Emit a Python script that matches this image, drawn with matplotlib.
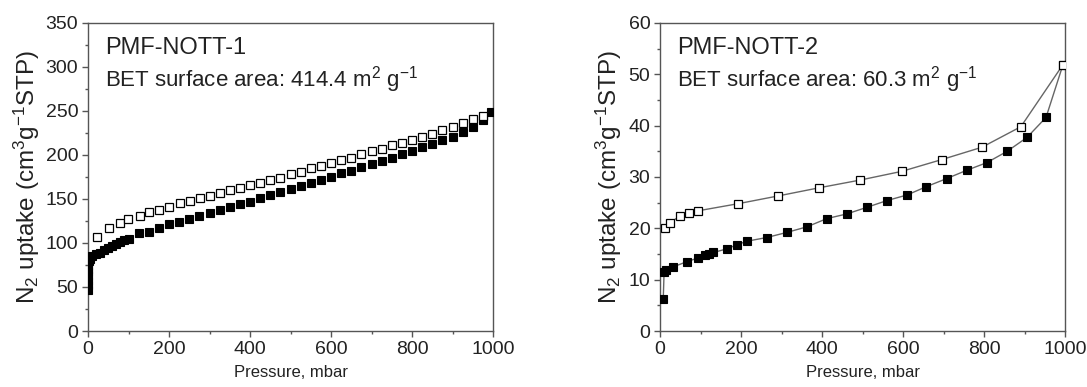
import matplotlib
matplotlib.use('Agg')
import matplotlib.pyplot as plt
from matplotlib.ticker import MultipleLocator

plt.rcParams['font.family'] = ['Liberation Sans', 'DejaVu Sans']
plt.rcParams['mathtext.fontset'] = 'custom'
plt.rcParams['mathtext.rm'] = 'Liberation Sans'
plt.rcParams['mathtext.it'] = 'Liberation Sans:italic'

# PMF-NOTT-1 adsorption (filled) / desorption (open)
p1_ads = [0, 0, 0, 0, 0, 0, 0, 2, 5, 10, 20, 30, 40, 50, 60, 70, 80, 90, 100,
          125, 150, 175, 200, 225, 250, 275, 300, 325, 350, 375, 400, 425, 450,
          475, 500, 525, 550, 575, 600, 625, 650, 675, 700, 725, 750, 775, 800,
          825, 850, 875, 900, 925, 950, 975, 995]
v1_ads = [47, 52, 57, 62, 67, 71, 75, 79, 82, 85, 87, 89, 92, 94, 97, 99, 101, 103, 104.5,
          111, 113, 117, 122, 124, 127, 131, 134, 138, 141, 144, 147, 151, 154,
          158, 161, 165, 168, 172, 175, 179, 182, 186, 190, 193, 197, 201, 204,
          209, 212, 217, 221, 226, 232, 240, 249]
p1_des = [22, 52, 79, 99, 128, 151, 175, 200, 227, 252, 277, 301, 325, 350, 375,
          400, 425, 450, 475, 500, 525, 550, 575, 600, 625, 650, 675, 700, 725,
          750, 775, 800, 825, 850, 875, 900, 925, 950, 975]
v1_des = [107, 117, 123, 127, 131, 135, 137.5, 141, 145, 148, 151, 153, 157, 160, 163,
          166, 168, 172, 174, 178, 181, 185, 188, 191, 194, 197, 201, 204, 207,
          211, 214, 217, 220, 224, 228, 232, 236, 241, 244]

# PMF-NOTT-2
p2_ads = [8, 10, 15, 33, 66, 93, 112, 122, 132, 165, 190, 215, 263, 313, 363, 412,
          461, 511, 560, 610, 657, 708, 757, 807, 857, 906, 953, 995]
v2_ads = [6.3, 11.4, 11.8, 12.5, 13.5, 14.2, 14.8, 15.0, 15.3, 16.0, 16.8, 17.5, 18.2,
          19.2, 20.3, 21.9, 22.8, 24.1, 25.4, 26.5, 28.1, 29.7, 31.3, 32.8, 35.0,
          37.7, 41.6, 51.9]
p2_des = [12, 25, 49, 72, 93, 193, 291, 393, 494, 597, 696, 795, 891, 995]
v2_des = [20.1, 21.1, 22.4, 23.0, 23.4, 24.8, 26.3, 27.9, 29.4, 31.1, 33.4, 35.8, 39.8, 51.9]

panels = [
    (p1_ads, v1_ads, p1_des, v1_des, 350, 50, 25, 'PMF-NOTT-1', '414.4', False),
    (p2_ads, v2_ads, p2_des, v2_des, 60, 10, 5, 'PMF-NOTT-2', '60.3', True),
]

txt = '#222222'
spine = '#555555'

fig = plt.figure(figsize=(10.87, 3.87), dpi=100)
lefts = [0.081, 0.6072]
for (pa, va, pd, vd, ymax, ymaj, ymin, name, bet, lines), left in zip(panels, lefts):
    ax = fig.add_axes([left, 0.1447, 0.3726, 0.7959])
    if lines:
        ax.plot(pa, va, color='#666666', lw=1.0, zorder=1)
        ax.plot(pd, vd, color='#666666', lw=1.0, zorder=1)
    ax.plot(pa, va, ls='none', marker='s', ms=6.4, mfc='black', mec='black', mew=0.8, zorder=3)
    ax.plot(pd, vd, ls='none', marker='s', ms=6.4, mfc='white', mec='black', mew=0.9, zorder=4)
    ax.set_xlim(0, 1000)
    ax.set_ylim(0, ymax)
    ax.xaxis.set_major_locator(MultipleLocator(200))
    ax.xaxis.set_minor_locator(MultipleLocator(100))
    ax.yaxis.set_major_locator(MultipleLocator(ymaj))
    ax.yaxis.set_minor_locator(MultipleLocator(ymin))
    ax.tick_params(which='major', direction='out', length=4, width=1, colors=spine,
                   labelcolor=txt, labelsize=14, pad=3)
    ax.tick_params(which='minor', direction='out', length=2.5, width=1, colors=spine)
    for s in ax.spines.values():
        s.set_color(spine)
        s.set_linewidth(1.0)
    ax.set_xlabel('Pressure, mbar', fontsize=12, color=txt, labelpad=5)
    ax.set_ylabel(r'N$_2$ uptake (cm$^3$g$^{-1}$STP)', fontsize=17.5, color=txt, labelpad=3)
    ax.text(0.042, 0.919, name, transform=ax.transAxes, fontsize=17, color=txt,
            ha='left', va='center')
    ax.text(0.042, 0.815, 'BET surface area: ' + bet + r' m$^2$ g$^{-1}$',
            transform=ax.transAxes, fontsize=16, color=txt, ha='left', va='center')

fig.savefig('out.png', dpi=100)
